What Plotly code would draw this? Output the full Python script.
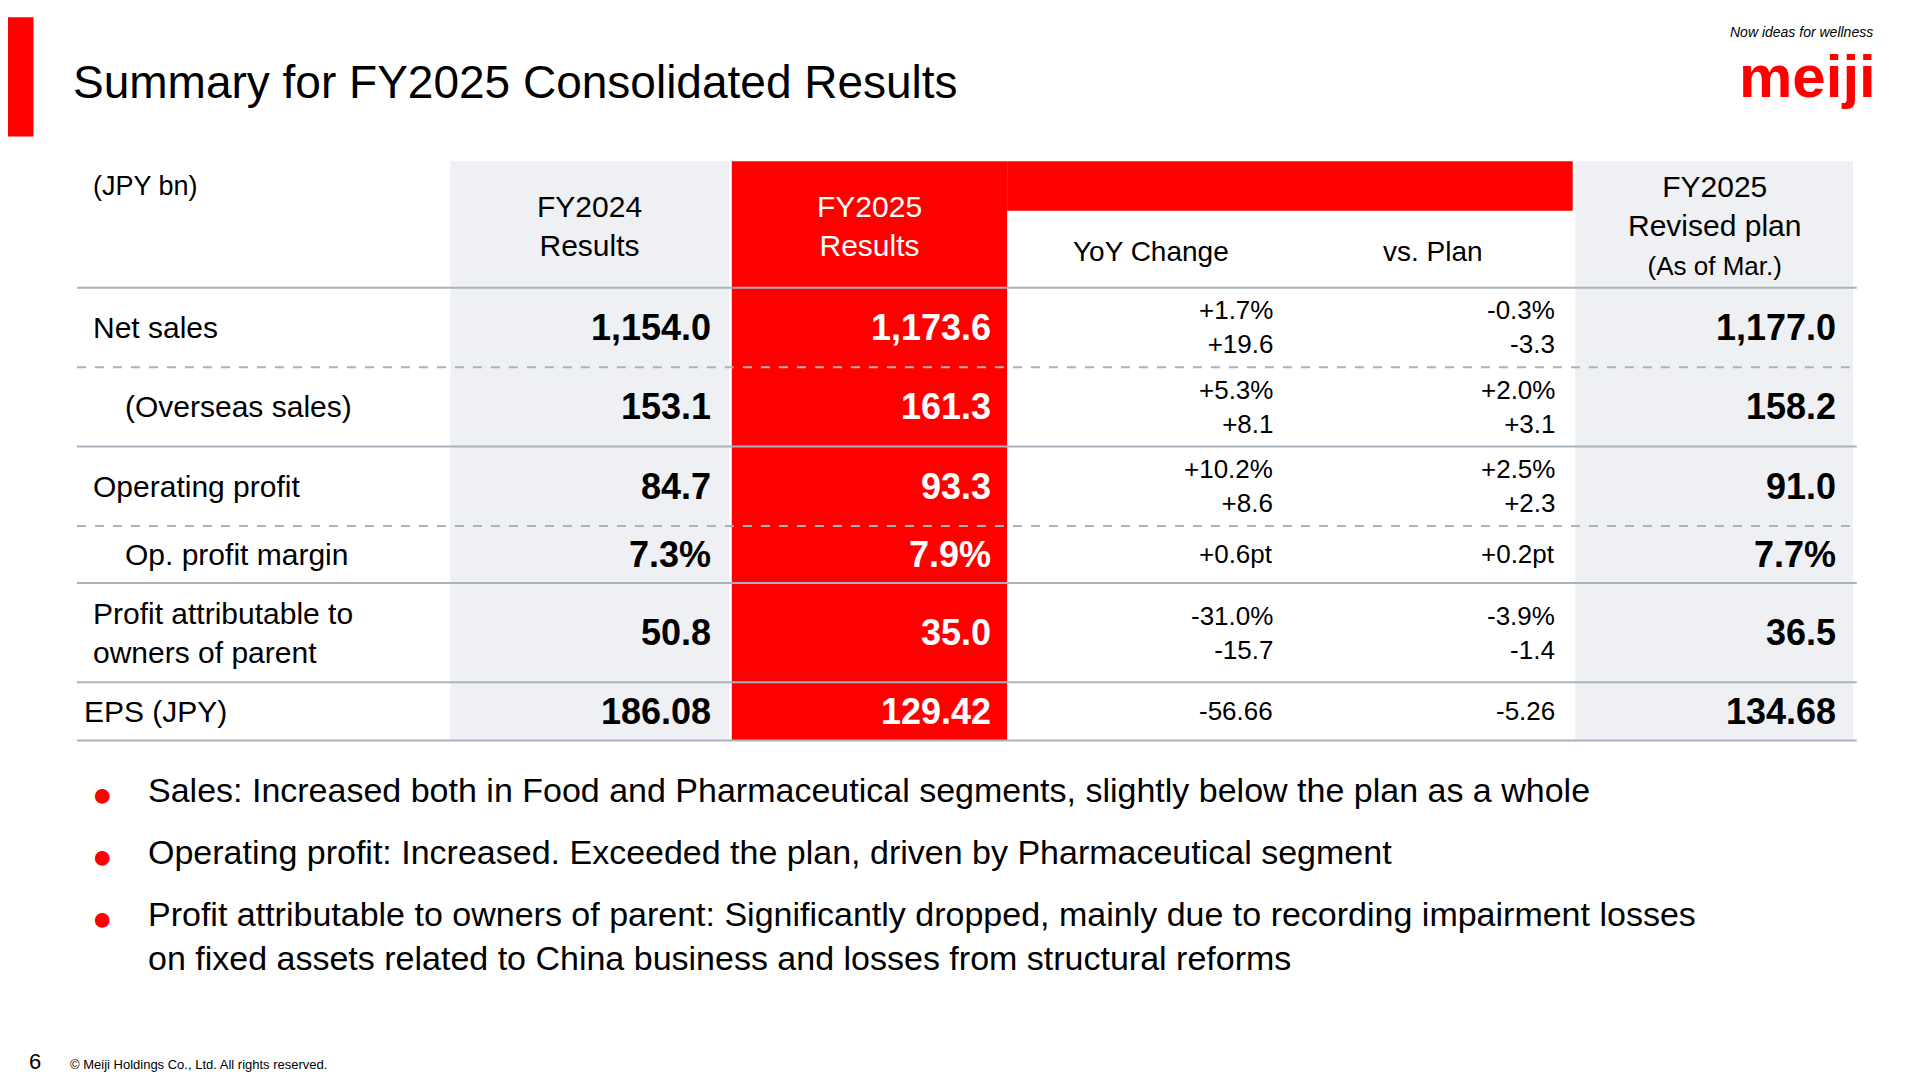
import plotly.graph_objects as go

K = 1920/1548
def s(v): return v*K

rows = ["Net sales", "(Overseas sales)", "Operating profit", "Op. profit margin",
        "Profit attributable to<br>owners of parent", "EPS (JPY)"]
row_indent = [73, 99, 73, 99, 73, 66]
fy2024 = ["1,154.0", "153.1", "84.7", "7.3%", "50.8", "186.08"]
fy2025 = ["1,173.6", "161.3", "93.3", "7.9%", "35.0", "129.42"]
yoy = ["+1.7%<br>+19.6", "+5.3%<br>+8.1", "+10.2%<br>+8.6", "+0.6pt", "-31.0%<br>-15.7", "-56.66"]
vsplan = ["-0.3%<br>-3.3", "+2.0%<br>+3.1", "+2.5%<br>+2.3", "+0.2pt", "-3.9%<br>-1.4", "-5.26"]
revised = ["1,177.0", "158.2", "91.0", "7.7%", "36.5", "134.68"]
bullets = ["Sales: Increased both in Food and Pharmaceutical segments, slightly below the plan as a whole",
           "Operating profit: Increased. Exceeded the plan, driven by Pharmaceutical segment",
           "Profit attributable to owners of parent: Significantly dropped, mainly due to recording impairment losses<br>on fixed assets related to China business and losses from structural reforms"]

bounds = [232, 296, 360, 424, 470, 550, 597]
dashed = [False, True, False, True, False, False, False]
RED = "#ff0000"; GREY = "#eef0f3"; LINE = "#a9b3bd"
F = "Liberation Sans, Arial, sans-serif"

shapes = []; ann = []
def rect(x0, y0, x1, y1, c):
    shapes.append(dict(type="rect", x0=s(x0), x1=s(x1), y0=s(y0), y1=s(y1), fillcolor=c, line_width=0, layer="below"))
def text(x, y, t, size, color="black", xa="left", bold=False, ya="middle"):
    ann.append(dict(x=s(x), y=s(y), text=("<b>%s</b>" % t) if bold else t, showarrow=False, xanchor=xa, yanchor=ya,
                    font=dict(size=size, color=color, family=F), align=xa if xa != "center" else "center"))

rect(-10, 14, 27, 110, RED)
text(57, 66, "Summary for FY2025 Consolidated Results", 46)
text(1512, 26, "<i>Now ideas for wellness</i>", 14, xa="right")
text(1514, 62, "meiji", 60, color=RED, xa="right", bold=True)

rect(363, 130, 588, 597, GREY)
rect(590, 130, 812, 597, RED)
rect(812, 130, 1268, 170, RED)
rect(1270, 130, 1494, 597, GREY)

for b, d in zip(bounds, dashed):
    shapes.append(dict(type="line", x0=s(62), x1=s(1497), y0=s(b), y1=s(b),
                       line=dict(color=LINE, width=2, dash="dash" if d else "solid")))

text(73, 150, "(JPY bn)", 27)
text(475, 182, "FY2024<br>Results", 30, xa="center")
text(701, 182, "FY2025<br>Results", 30, color="white", xa="center")
text(928, 203, "YoY Change", 28, xa="center")
text(1155, 203, "vs. Plan", 28, xa="center")
text(1382, 182, "FY2025<br>Revised plan<br><span style='font-size:26px'>(As of Mar.)</span>", 30, xa="center")

for i in range(6):
    yc = (bounds[i] + bounds[i+1]) / 2
    text(row_indent[i], yc, rows[i], 30)
    text(575, yc, fy2024[i], 36, xa="right", bold=True)
    text(801, yc, fy2025[i], 36, color="white", xa="right", bold=True)
    text(1028, yc, yoy[i], 26, xa="right")
    text(1255, yc, vsplan[i], 26, xa="right")
    text(1482, yc, revised[i], 36, xa="right", bold=True)

for y, t in zip([640, 690, 740], bullets):
    text(83, y, "●", 34, color=RED, xa="center")
    text(118, y - 20, t, 34, ya="top")

text(22, 856, "6", 22)
text(55, 858, "© Meiji Holdings Co., Ltd. All rights reserved.", 13)

fig = go.Figure()
fig.update_layout(width=1920, height=1080, margin=dict(l=0, r=0, t=0, b=0),
                  paper_bgcolor="white", plot_bgcolor="white", shapes=shapes, annotations=ann,
                  xaxis=dict(range=[8, 1928], visible=False, fixedrange=True),
                  yaxis=dict(range=[1088, 8], visible=False, fixedrange=True), showlegend=False)
fig.write_html("out.html")
